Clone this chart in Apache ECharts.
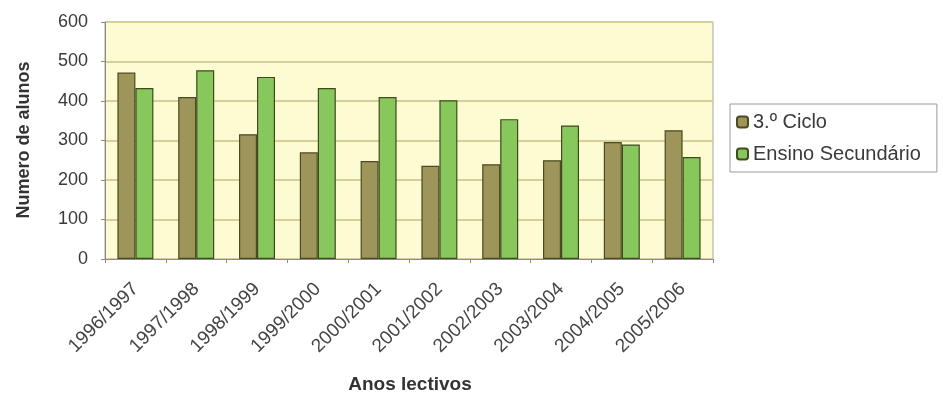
<!DOCTYPE html>
<html>
<head>
<meta charset="utf-8">
<script src="https://cdn.jsdelivr.net/npm/echarts@6/dist/echarts.min.js"></script>
<style>
  html, body { margin: 0; padding: 0; background: #ffffff; }
  #chart { width: 943px; height: 394px; }
</style>
</head>
<body>
<div id="chart"></div>
<script>
// School years on the category axis
const anos = ['1996/1997', '1997/1998', '1998/1999', '1999/2000', '2000/2001',
              '2001/2002', '2002/2003', '2003/2004', '2004/2005', '2005/2006'];
// Number of pupils per level
const terceiroCiclo = [472, 410, 316, 270, 248, 236, 240, 250, 296, 326];
const ensinoSecundario = [433, 478, 461, 433, 410, 402, 354, 338, 290, 258];
// Axis titles
const tituloX = 'Anos lectivos';
const tituloY = 'Numero de alunos';

const chart = echarts.init(document.getElementById('chart'));
const fontFam = 'Liberation Sans, Arial, sans-serif';

chart.setOption({
  animation: false,
  backgroundColor: '#ffffff',
  grid: { left: 105, right: 230, top: 22, bottom: 135, show: true,
          outerBoundsMode: 'none', containLabel: false,
          backgroundColor: '#fdfbd2', borderColor: '#a9a99a', borderWidth: 1 },
  graphic: [
    {
      type: 'text', x: 410, y: 385,
      style: { text: tituloX, fontFamily: fontFam, fontSize: 19, fontWeight: 'bold',
               fill: '#333333', align: 'center', verticalAlign: 'middle' }
    },
    {
      type: 'text', x: 24, y: 140, rotation: Math.PI / 2,
      style: { text: tituloY, fontFamily: fontFam, fontSize: 18, fontWeight: 'bold',
               fill: '#333333', align: 'center', verticalAlign: 'middle' }
    }
  ],
  legend: {
    orient: 'vertical', left: 730, top: 104, itemGap: 12,
    itemWidth: 11, itemHeight: 11, padding: [8, 16, 8, 6],
    borderColor: '#9a9a9a', borderWidth: 1,
    textStyle: { fontFamily: fontFam, fontSize: 20, color: '#3a3a3a' },
    data: ['3.º Ciclo', 'Ensino Secundário']
  },
  xAxis: {
    type: 'category', data: anos,
    axisLine: { lineStyle: { color: '#8a8a8a' } },
    axisTick: { show: true, length: 4, lineStyle: { color: '#8a8a8a' } },
    axisLabel: { rotate: 45, fontFamily: fontFam, fontSize: 19, color: '#444444', margin: 27 }
  },
  yAxis: {
    type: 'value', min: 0, max: 600, interval: 100,
    axisLine: { show: true, lineStyle: { color: '#8a8a8a' } },
    axisTick: { show: true, length: 4, lineStyle: { color: '#8a8a8a' } },
    axisLabel: { fontFamily: fontFam, fontSize: 18, color: '#3a3a3a', margin: 17 },
    splitLine: { lineStyle: { color: '#d6cf9c', width: 2 } }
  },
  series: [
    {
      name: '3.º Ciclo', type: 'bar', data: terceiroCiclo,
      barWidth: 18, barGap: '0%',
      itemStyle: { color: '#9d955a', borderColor: '#4d4a22', borderWidth: 1.2 }
    },
    {
      name: 'Ensino Secundário', type: 'bar', data: ensinoSecundario,
      barWidth: 18,
      itemStyle: { color: '#88c75c', borderColor: '#3f4a1f', borderWidth: 1.2 }
    }
  ]
});
</script>
</body>
</html>
